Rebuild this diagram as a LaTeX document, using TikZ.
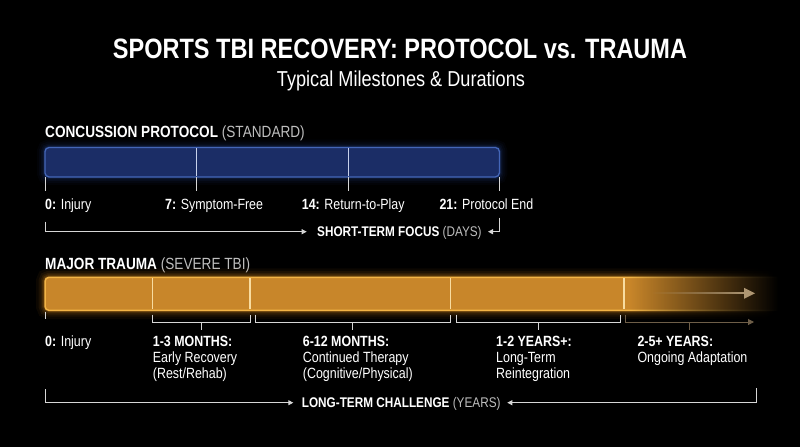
\documentclass[tikz,border=0pt]{standalone}
\usepackage{fontspec}
\setmainfont{Liberation Sans}[FakeStretch=0.84]
\usetikzlibrary{arrows.meta,fadings}
\tikzfading[name=tobl, left color=transparent!100, right color=transparent!0]
\definecolor{bluefill}{HTML}{1B2D66}
\definecolor{blueedge}{HTML}{4466B8}
\definecolor{glowblue}{HTML}{3A62C8}
\definecolor{orfill}{HTML}{C8862A}
\definecolor{oredge}{HTML}{F2B446}
\definecolor{glowor}{HTML}{F09A20}
\definecolor{lgray}{HTML}{D6D6D6}
\definecolor{pgray}{HTML}{BEBEBE}
\definecolor{tanarrow}{HTML}{AE9672}
\definecolor{tanline}{HTML}{6E5E48}
\definecolor{divb}{HTML}{C8D2EC}
\definecolor{divo}{HTML}{F8DCA0}
\begin{document}
\begin{tikzpicture}[x=1pt,y=-1pt,
  txt/.style={text=white, inner sep=0pt, anchor=base west},
  lab/.style={txt, font=\fontsize{14.8}{16}\selectfont},
  foot/.style={txt, font=\fontsize{14}{16}\selectfont},
  head/.style={txt, font=\fontsize{16.2}{18}\selectfont},
  conn/.style={draw=lgray, line width=0.9pt},
  arr/.style={conn, -{Triangle[length=5pt,width=5pt]}},
  tick/.style={draw=lgray, line width=0.9pt},
  brk/.style={draw=lgray, line width=0.9pt},
  dvb/.style={draw=divb, line width=1pt},
  dvo/.style={draw=divo, line width=1.2pt},
]
\fill[black] (0,0) rectangle (800,447);
\useasboundingbox (0,0) rectangle (800,447);

% titles
\node[anchor=base, inner sep=0, text=white, font=\fontsize{28}{32}\selectfont\bfseries] (title) at (400,58.3) {SPORTS TBI RECOVERY: PROTOCOL vs. TRAUMA};
\node[anchor=base, inner sep=0, text=white, font=\fontsize{21.6}{24}\selectfont] (sub) at (401,86) {Typical Milestones \& Durations};

% ---------- concussion protocol ----------
\node[head] (h1) at (45,137.5) {\textbf{CONCUSSION PROTOCOL} \textcolor{pgray}{(STANDARD)}};
\node[minimum width=454pt, minimum height=29pt, inner sep=0, anchor=north west] (cbar) at (45,147.5) {};
\foreach \w/\o in {16/0.04,12/0.05,8/0.07,5/0.09,3/0.12}{
  \draw[glowblue, line width=\w pt, opacity=\o, rounded corners=4pt] (cbar.north west) rectangle (cbar.south east);}
\draw[blueedge, fill=bluefill, line width=1.3pt, rounded corners=4pt] (cbar.north west) rectangle (cbar.south east);
\draw[dvb] (196,148.3) -- (196,175.7);
\draw[dvb] (348,148.3) -- (348,175.7);
\foreach \x in {45,196,348,499}{\draw[tick] (\x,177.2) -- (\x,191);}

\node[lab] (c0) at (45,209) {\textbf{0:} Injury};
\node[lab] (c7) at (165,209) {\textbf{7:} Symptom-Free};
\node[lab] (c14) at (301.7,209) {\textbf{14:} Return-to-Play};
\node[lab] (c21) at (439.3,209) {\textbf{21:} Protocol End};

\node[foot] (stf) at (317,236.3) {\textbf{SHORT-TERM FOCUS} \textcolor{pgray}{(DAYS)}};
\coordinate (s1) at (45,221.7);
\coordinate (s2) at (306.7,231.7);
\coordinate (s3) at (499,217.7);
\coordinate (s4) at (488,231.7);
\draw[arr] (s1) |- (s2);
\draw[arr] (s3) |- (s4);

% ---------- major trauma ----------
\node[head] (h2) at (45,269) {\textbf{MAJOR TRAUMA} \textcolor{pgray}{(SEVERE TBI)}};
\node[minimum width=755pt, minimum height=32.7pt, inner sep=0, anchor=north west] (obar) at (45,277.3) {};
\foreach \w/\o in {18/0.05,13/0.07,9/0.09,6/0.12,3.5/0.16}{
  \draw[glowor, line width=\w pt, opacity=\o, rounded corners=4pt] (45,277.3) rectangle (770,310);}
\draw[oredge, fill=orfill, line width=1.5pt, rounded corners=4pt] (obar.north west) rectangle (obar.south east);
\foreach \x in {152.7,250,450.7,624}{\draw[dvo] (\x,278.2) -- (\x,309.1);}
% fade of the open end
\fill[black, path fading=tobl] (630,262) rectangle (778,329);
\fill[black] (777.5,262) rectangle (800,329);
% arrow inside the bar
\coordinate (ia) at (650,293.3);
\coordinate (ib) at (755,293.3);
\fill[tanarrow, path fading=tobl] (650,292.3) rectangle (745,294.3);
\fill[tanarrow] (744,287.8) -- (ib) -- (744,298.8) -- cycle;

% brackets
\draw[tick] (45,311.5) -- (45,318.5);
\draw[brk] (152.7,314.5) -- (152.7,322) -- (250,322) -- (250,314.5);
\draw[brk] (201.3,322) -- (201.3,330);
\draw[brk] (255,314.5) -- (255,322) -- (450.7,322) -- (450.7,314.5);
\draw[brk] (352.8,322) -- (352.8,330);
\draw[brk] (456.7,314.5) -- (456.7,322) -- (620,322) -- (620,314.5);
\draw[brk] (538.3,322) -- (538.3,330);
\coordinate (q1) at (625,314.5);
\coordinate (q2) at (754,322);
\draw[draw=tanline, line width=1pt, -{Triangle[length=6pt,width=6pt]}] (q1) |- (q2);
\draw[draw=tanline, line width=1pt] (689,322) -- (689,330);

% labels
\node[lab] (t0) at (45,346.7) {\textbf{0:} Injury};
\node[lab] (t1) at (152.7,346.7) {\textbf{1-3 MONTHS:}};
\node[lab] (t1b) at (152.7,362.5) {Early Recovery};
\node[lab] (t1c) at (152.7,378.3) {(Rest/Rehab)};
\node[lab] (t2) at (302.7,346.7) {\textbf{6-12 MONTHS:}};
\node[lab] (t2b) at (302.7,362.5) {Continued Therapy};
\node[lab] (t2c) at (302.7,378.3) {(Cognitive/Physical)};
\node[lab] (t3) at (496,346.7) {\textbf{1-2 YEARS+:}};
\node[lab] (t3b) at (496,362.5) {Long-Term};
\node[lab] (t3c) at (496,378.3) {Reintegration};
\node[lab] (t4) at (637.3,346.7) {\textbf{2-5+ YEARS:}};
\node[lab] (t4b) at (637.3,362.5) {Ongoing Adaptation};

\node[foot] (ltc) at (301.7,407.8) {\textbf{LONG-TERM CHALLENGE} \textcolor{pgray}{(YEARS)}};
\coordinate (l1) at (45,389.3);
\coordinate (l2) at (293.3,402.7);
\coordinate (r1) at (756,388.3);
\coordinate (r2) at (507.3,402.7);
\draw[arr] (l1) |- (l2);
\draw[arr] (r1) |- (r2);
\end{tikzpicture}
\end{document}
